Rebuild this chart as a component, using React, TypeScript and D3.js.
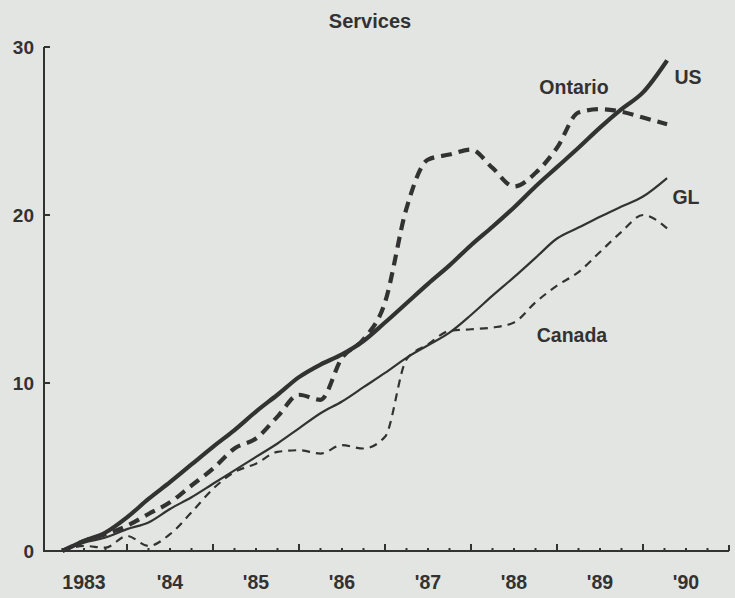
import React from 'react';
import * as d3 from 'd3';

// quarterly observations (decimal year), last one is the spring 1990 reading
const periods = [
    1983.25, 1983.5, 1983.75, 1984, 1984.25, 1984.5, 1984.75, 1985, 1985.25, 1985.5,
    1985.75, 1986, 1986.25, 1986.5, 1986.75, 1987, 1987.25, 1987.5, 1987.75, 1988,
    1988.25, 1988.5, 1988.75, 1989, 1989.25, 1989.5, 1989.75, 1990, 1990.28,
];

const us = [
    0, 0.6, 1.1, 2.0, 3.1, 4.1, 5.15, 6.2, 7.2, 8.3, 9.3, 10.35, 11.1, 11.7, 12.5, 13.6,
    14.75, 15.9, 17.0, 18.2, 19.3, 20.45, 21.7, 22.85, 24.0, 25.2, 26.3, 27.3, 29.2,
];
const ontario = [
    0, 0.6, 1.0, 1.5, 2.2, 2.9, 3.9, 4.9, 6.1, 6.7, 8.0, 9.3, 9.0, 11.5, 12.6, 14.8,
    20.4, 23.3, 23.6, 23.9, 22.8, 21.7, 22.5, 24.0, 26.1, 26.3, 26.15, 25.8, 25.4,
];
const gl = [
    0, 0.5, 0.8, 1.3, 1.7, 2.5, 3.2, 4.0, 4.8, 5.6, 6.4, 7.3, 8.2, 8.9, 9.75, 10.6,
    11.5, 12.25, 13.0, 14.05, 15.2, 16.3, 17.45, 18.6, 19.25, 19.9, 20.5, 21.1, 22.2,
];
const canada = [
    0, 0.3, 0.2, 0.9, 0.3, 1.0, 2.3, 3.7, 4.7, 5.2, 5.9, 6.0, 5.8, 6.3, 6.1, 6.8,
    11.4, 12.3, 13.1, 13.2, 13.3, 13.6, 14.8, 15.8, 16.6, 17.8, 19.0, 20.0, 19.2,
];

const yTicks = [0, 10, 20, 30];
const years = [1983, 1984, 1985, 1986, 1987, 1988, 1989, 1990];
const yearLabels = ['1983', "'84", "'85", "'86", "'87", "'88", "'89", "'90"];

const width = 735;
const height = 598;
const ink = '#323232';
const paper = '#e3e5e2';
const font = "'Liberation Sans', Arial, sans-serif";

const App = () => {
    const x = d3.scaleLinear().domain([1983, 1991]).range([41, 729]);
    const y = d3.scaleLinear().domain([0, 30]).range([551, 47]);
    const axisX = 44;

    const line = d3
        .line<number>()
        .x((d, i) => x(periods[i]))
        .y(d => y(d))
        .curve(d3.curveMonotoneX);

    const series = [
        { name: 'US', values: us, width: 4.2, dash: null },
        { name: 'Ontario', values: ontario, width: 4.2, dash: '11 7' },
        { name: 'GL', values: gl, width: 2.2, dash: null },
        { name: 'Canada', values: canada, width: 2.2, dash: '8 6' },
    ];

    // quarter ticks along the bottom, taller at year boundaries
    const quarters = d3.range(1983.25, 1991.01, 0.25);

    const labels = [
        { text: 'Ontario', x: 574, y: 94 },
        { text: 'US', x: 688, y: 84 },
        { text: 'GL', x: 686, y: 204 },
        { text: 'Canada', x: 572, y: 342 },
    ];

    return (
        <svg
            width={width}
            height={height}
            style={{ position: 'absolute', left: 0, top: 0, background: paper }}
            fontFamily={font}
            fontWeight="bold"
        >
            <rect width={width} height={height} fill={paper} />
            <text x={370} y={28} textAnchor="middle" fontSize={20} fill={ink}>
                Services
            </text>

            {/* y axis */}
            <line x1={axisX} x2={axisX} y1={y(30)} y2={y(0) + 1} stroke={ink} strokeWidth={2} />
            {yTicks.map(t => (
                <g key={t}>
                    {t > 0 && (
                        <line x1={axisX} x2={axisX + 6} y1={y(t)} y2={y(t)} stroke={ink} strokeWidth={2} />
                    )}
                    <text x={34} y={y(t)} dy="0.36em" textAnchor="end" fontSize={19} fill={ink}>
                        {t}
                    </text>
                </g>
            ))}

            {/* x axis */}
            <line x1={axisX - 1} x2={x(1991)} y1={y(0)} y2={y(0)} stroke={ink} strokeWidth={2} />
            {quarters.map(q => {
                const isYear = Math.abs(q - Math.round(q)) < 0.01;
                const h = q > 1990.9 ? 6 : isYear ? 7 : 3;
                return (
                    <line key={q} x1={x(q)} x2={x(q)} y1={y(0)} y2={y(0) - h} stroke={ink} strokeWidth={2} />
                );
            })}
            {years.map((yr, i) => (
                <text key={yr} x={x(yr + 0.5)} y={589} textAnchor="middle" fontSize={19.5} fill={ink}>
                    {yearLabels[i]}
                </text>
            ))}

            {/* series */}
            {series.map(s => (
                <path
                    key={s.name}
                    d={line(s.values) || ''}
                    fill="none"
                    stroke={ink}
                    strokeWidth={s.width}
                    strokeDasharray={s.dash || undefined}
                    strokeLinejoin="round"
                />
            ))}

            {labels.map(l => (
                <text key={l.text} x={l.x} y={l.y} textAnchor="middle" fontSize={19.5} fill={ink}>
                    {l.text}
                </text>
            ))}
        </svg>
    );
};

export default App;
